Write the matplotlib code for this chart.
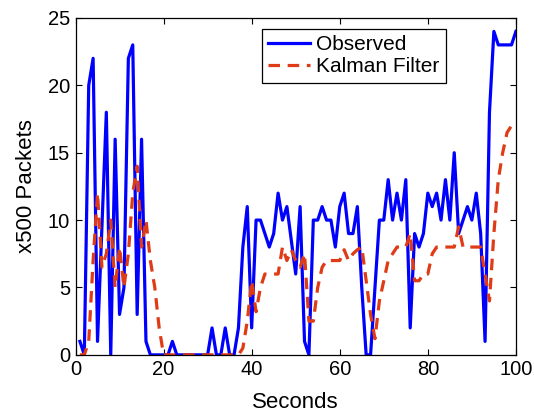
import matplotlib
matplotlib.use("Agg")
import matplotlib.pyplot as plt
import numpy as np

# time axis (seconds)
seconds = np.arange(1, 101)

# observed traffic, x500 packets
observed = [
    1, 0, 20, 22, 1, 9.5, 18, 0, 16, 3,
    5, 22, 23, 3, 16, 1, 0, 0, 0, 0,
    0, 1, 0, 0, 0, 0, 0, 0, 0, 0,
    2, 0, 0, 2, 0, 0, 2, 8, 11, 2,
    10, 10, 9, 8, 9, 12, 10, 11, 8.5, 6,
    11, 1, 0, 10, 10, 11, 10, 10, 8, 11,
    12, 9, 9, 11, 5, 0, 0, 5, 10, 10,
    13, 10, 12, 10, 13, 2, 9, 8, 9, 12,
    11, 12, 10, 13, 10, 15, 9, 10, 11, 10,
    12, 9, 1, 18, 24, 23, 23, 23, 23, 24,
]

# kalman filter estimate
kalman = [
    0, 0, 1, 7, 12, 6.5, 7.5, 10, 5, 8,
    5, 7.5, 12, 14, 8, 10, 7, 5, 2, 0,
    0, 0, 0, 0, 0, 0, 0, 0, 0, 0,
    0, 0, 0, 0, 0, 0, 0, 0.5, 2.5, 5.5,
    3.2, 5, 6, 6, 6, 6, 8, 7, 7.8, 7,
    6.5, 7.5, 2.5, 2.5, 5, 6.5, 7, 7, 7, 7,
    7.8, 7, 7.5, 7.8, 8, 5.5, 3, 1.2, 4, 5.5,
    7, 7.5, 8, 8, 8, 9, 5.5, 5.5, 6, 6,
    7.5, 8, 8, 8, 8, 8, 9.5, 8, 8, 8,
    8, 8, 6, 4, 9, 13, 15, 16.5, 17, 17,
]

plt.rcParams['font.family'] = ['Liberation Sans', 'DejaVu Sans']

fig = plt.figure(figsize=(5.34, 4.17), dpi=100)
ax = fig.add_axes([0.1414, 0.149, 0.8247, 0.808])

ax.plot(seconds, observed, color='#0000ff', lw=2.3, label='Observed')
ax.plot(seconds, kalman, color='#de3b16', lw=2.3, linestyle=(0, (3.6, 2.4)), label='Kalman Filter')

ax.set_xlim(0, 100)
ax.set_ylim(0, 25)
ax.set_xticks(range(0, 101, 20))
ax.set_yticks(range(0, 26, 5))
ax.tick_params(direction='in', top=True, right=True, length=4, width=0.8, labelsize=14.5, pad=4)
for s in ax.spines.values():
    s.set_linewidth(0.9)

ax.set_xlabel('Seconds', fontsize=16, labelpad=9)
ax.set_ylabel('x500 Packets', fontsize=16, labelpad=8)

leg = ax.legend(loc='upper right', bbox_to_anchor=(0.841, 0.967), borderaxespad=0,
                fontsize=15, fancybox=False, framealpha=1, edgecolor='black',
                handlelength=2.0, handletextpad=0.3, borderpad=0.3, labelspacing=0.15)
leg.get_frame().set_linewidth(0.9)

fig.savefig('out.png', dpi=100)
